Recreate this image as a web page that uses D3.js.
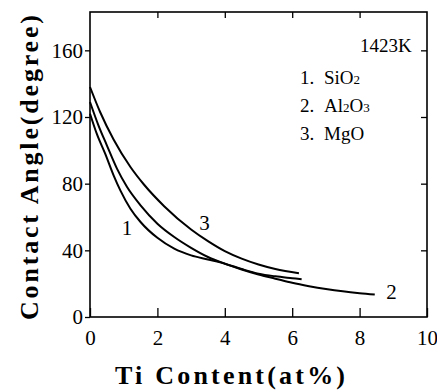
<!DOCTYPE html>
<html>
<head>
<meta charset="utf-8">
<script src="https://cdn.jsdelivr.net/npm/d3@7/dist/d3.min.js"></script>
<style>
  body { margin: 0; background: #fff; }
  svg text { font-family: "Liberation Serif", "Times New Roman", Times, "DejaVu Serif", serif; fill: #000; }
</style>
</head>
<body>
<div id="graph"></div>
<script>
const WIDTH = 437;
const HEIGHT = 392;
const SERIF = "'Liberation Serif', 'Times New Roman', Times, 'DejaVu Serif', serif";

// plot frame
const LEFT = 90, RIGHT = 427, TOP = 12, BOTTOM = 317;

const X_TICKS = [0, 2, 4, 6, 8, 10];
const Y_TICKS = [0, 40, 80, 120, 160];

// 1. SiO2
const sio2X = [0, 0.2, 0.45, 0.7, 0.9, 1.2, 1.5, 2.0, 2.5, 3.0, 3.5, 4.0, 4.5, 5.0, 5.5, 6.0, 6.28];
const sio2Y = [122, 110, 98, 85, 76, 65, 57, 47.5, 41, 37, 34.5, 32, 28.8, 26, 24.4, 23.3, 22.7];

// 2. Al2O3
const al2o3X = [0, 0.25, 0.5, 0.8, 1.1, 1.5, 2.0, 2.5, 3.0, 3.5, 4.0, 4.5, 5.0, 5.5, 6.0, 6.5, 7.0, 7.5, 8.0, 8.45];
const al2o3Y = [129, 115, 103, 89, 78, 67, 56, 48, 41.5, 36, 32, 28.5, 25.5, 23, 20.5, 18.5, 16.8, 15.4, 14.3, 13.5];

// 3. MgO
const mgoX = [0, 0.3, 0.7, 1.2, 1.6, 2.2, 3.0, 3.5, 4.0, 4.5, 5.0, 5.5, 6.2];
const mgoY = [138, 123, 106.5, 90, 79.5, 66.5, 52.5, 45.5, 39.5, 35, 31.5, 28.8, 26.3];

// curve number labels: [x, y(degree), text]
const curveLabels = [[1.1, 52, "1"], [3.4, 55, "3"], [8.95, 13.5, "2"]];

const svg = d3.select("#graph")
  .append("svg")
  .attr("width", WIDTH)
  .attr("height", HEIGHT)
  .attr("font-family", SERIF);

const x = d3.scaleLinear().domain([0, 10]).range([LEFT, RIGHT]);
const y = d3.scaleLinear().domain([0, 183]).range([BOTTOM, TOP]);

// frame
svg.append("rect")
  .attr("x", LEFT).attr("y", TOP)
  .attr("width", RIGHT - LEFT).attr("height", BOTTOM - TOP)
  .attr("fill", "none").attr("stroke", "#000").attr("stroke-width", 1.6);

// bottom axis, ticks inside
svg.append("g")
  .attr("transform", `translate(0,${BOTTOM})`)
  .call(d3.axisBottom(x).tickValues(X_TICKS).tickSizeInner(-9).tickSizeOuter(0).tickPadding(13))
  .call(g => g.attr("font-family", SERIF))
  .call(g => g.select(".domain").remove())
  .call(g => g.selectAll("line").attr("stroke-width", 1.3))
  .call(g => g.selectAll("text").attr("font-size", 21));

// top ticks, inside
svg.append("g")
  .attr("transform", `translate(0,${TOP})`)
  .call(d3.axisTop(x).tickValues(X_TICKS.slice(1, -1)).tickSizeInner(-6).tickSizeOuter(0).tickFormat(""))
  .call(g => g.select(".domain").remove())
  .call(g => g.selectAll("line").attr("stroke-width", 1.3));

// left axis, small ticks outside
svg.append("g")
  .attr("transform", `translate(${LEFT},0)`)
  .call(d3.axisLeft(y).tickValues(Y_TICKS).tickSizeInner(5).tickSizeOuter(0).tickPadding(2))
  .call(g => g.attr("font-family", SERIF))
  .call(g => g.select(".domain").remove())
  .call(g => g.selectAll("line").attr("stroke-width", 1.3))
  .call(g => g.selectAll("text").attr("font-size", 21));

// right ticks, inside
svg.append("g")
  .attr("transform", `translate(${RIGHT},0)`)
  .call(d3.axisRight(y).tickValues(Y_TICKS.slice(1)).tickSizeInner(-6).tickSizeOuter(0).tickFormat(""))
  .call(g => g.select(".domain").remove())
  .call(g => g.selectAll("line").attr("stroke-width", 1.3));

// curves
const line = d3.line()
  .x(d => x(d[0]))
  .y(d => y(d[1]))
  .curve(d3.curveMonotoneX);

[[sio2X, sio2Y], [al2o3X, al2o3Y], [mgoX, mgoY]].forEach(([xs, ys]) => {
  svg.append("path")
    .datum(xs.map((v, i) => [v, ys[i]]))
    .attr("d", line)
    .attr("fill", "none")
    .attr("stroke", "#000")
    .attr("stroke-width", 2);
});

svg.selectAll(".clabel")
  .data(curveLabels)
  .enter()
  .append("text")
  .attr("class", "clabel")
  .attr("x", d => x(d[0]))
  .attr("y", d => y(d[1]))
  .attr("text-anchor", "middle")
  .attr("dominant-baseline", "middle")
  .attr("font-size", 21)
  .text(d => d[2]);

// legend
svg.append("text")
  .attr("x", 360).attr("y", 52)
  .attr("font-size", 19)
  .text("1423K");

const legend = svg.append("g").attr("font-size", 19);
const legendRows = [
  ["1.", [["Si"], ["O"], ["2", true]]],
  ["2.", [["Al"], ["2", true], ["O"], ["3", true]]],
  ["3.", [["MgO"]]]
];
legendRows.forEach((row, i) => {
  const by = 84 + i * 28;
  legend.append("text").attr("x", 300).attr("y", by).text(row[0]);
  const t = legend.append("text").attr("x", 324).attr("y", by);
  row[1].forEach(part => {
    const s = t.append("tspan").text(part[0]);
    if (part[1]) s.attr("font-size", 13);
  });
});

// axis titles
svg.append("text")
  .attr("transform", `translate(38,${(TOP + BOTTOM) / 2 + 3}) rotate(-90)`)
  .attr("text-anchor", "middle")
  .attr("font-size", 26)
  .attr("font-weight", "bold")
  .attr("textLength", 305)
  .attr("lengthAdjust", "spacing")
  .text("Contact Angle(degree)");

svg.append("text")
  .attr("x", 230).attr("y", 384)
  .attr("text-anchor", "middle")
  .attr("font-size", 26)
  .attr("font-weight", "bold")
  .attr("textLength", 230)
  .attr("lengthAdjust", "spacing")
  .text("Ti Content(at%)");
</script>
</body>
</html>
